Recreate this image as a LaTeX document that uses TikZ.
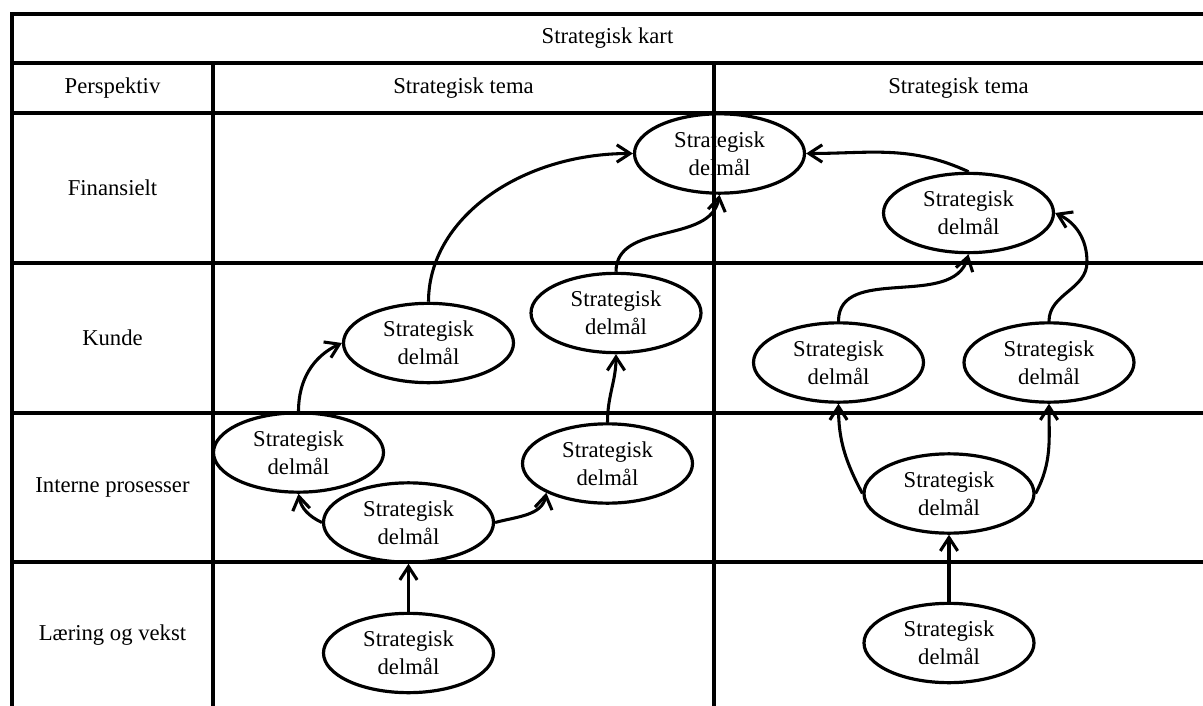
\documentclass[tikz,border=0pt]{standalone}
\usepackage{fontspec}
\setmainfont{Liberation Serif}
\usetikzlibrary{arrows.meta,shapes.geometric}
\begin{document}
\begin{tikzpicture}[x=0.75pt,y=-0.75pt,
  gridline/.style={line width=3.1pt, line join=miter},
  celltext/.style={font=\fontsize{17}{20.8}\selectfont, inner sep=0pt},
  goal/.style={ellipse, draw, line width=2.4pt, minimum width=127.5pt,
    minimum height=59.5pt, inner sep=0pt, align=center,
    font=\fontsize{17}{20.8}\selectfont},
  link/.style={line width=2.3pt, -{Straight Barb[length=10pt,width=13pt,sharp]}},
]
\useasboundingbox (0,0) rectangle (1203,706);

% table frame
\draw[gridline] (12,712) -- (12,14) -- (1210,14);
\foreach \y in {63,113,263,413,562} \draw[gridline] (12,\y) -- (1210,\y);
\draw[gridline] (213,63) -- (213,712);
\draw[gridline] (714,63) -- (714,712);

% headers and row labels
\node[celltext] (title) at (607.5,38.5) {Strategisk kart};
\node[celltext] (persp) at (112.5,88) {Perspektiv};
\node[celltext] (temaA) at (463.5,88) {Strategisk tema};
\node[celltext] (temaB) at (958.5,88) {Strategisk tema};
\node[celltext] (fin) at (112.5,188) {Finansielt};
\node[celltext] (kunde) at (112.5,338) {Kunde};
\node[celltext] (intern) at (112.5,487.5) {Interne prosesser};
\node[celltext] (laer) at (112.5,635) {Læring og vekst};

% strategic goals
\node[goal] (E1) at (719.5,153.5) {Strategisk\\delmål};
\node[goal] (E2) at (968.5,213) {Strategisk\\delmål};
\node[goal] (E3) at (428.5,343) {Strategisk\\delmål};
\node[goal] (E4) at (616,313) {Strategisk\\delmål};
\node[goal] (E5) at (298.5,452.5) {Strategisk\\delmål};
\node[goal] (E6) at (408.5,522.5) {Strategisk\\delmål};
\node[goal] (E7) at (607.5,463.5) {Strategisk\\delmål};
\node[goal] (E8) at (408.5,653) {Strategisk\\delmål};
\node[goal] (E9) at (949,643) {Strategisk\\delmål};
\node[goal] (E10) at (838.5,362.5) {Strategisk\\delmål};
\node[goal] (E11) at (1049,362.5) {Strategisk\\delmål};
\node[goal] (E12) at (949,493.5) {Strategisk\\delmål};

\coordinate (bendR) at (1087,262);

% cause and effect links
\draw[link] (E8.north) -- (E6.south);
\draw[link] (E6.west) to[out=155,in=-80] (E5.south);
\draw[link] (E6.east) to[out=15,in=-100] (E7.south west);
\draw[link] (E5.north) to[out=90,in=205] (E3.west);
\draw[link] (E7.north) to[out=90,in=-90] (E4.south);
\draw[link] (E3.north) .. controls +(0,-83) and +(-113,0) .. (E1.west);
\draw[link] (E4.north) to[out=90,in=-100] (E1.south);

\draw[link] (E9.north) -- (E12.south);
\draw[link] (E12.west) to[out=118,in=-90] (E10.south);
\draw[link] (E12.east) to[out=62,in=-90] (E11.south);
\draw[link] (E10.north) to[out=90,in=-105] (E2.south);
\draw[link] (E11.north) to[out=90,in=-90] (bendR) to[out=90,in=-25] (E2.east);
\draw[link] (E2.north) to[out=155,in=0] (E1.east);
\end{tikzpicture}
\end{document}
